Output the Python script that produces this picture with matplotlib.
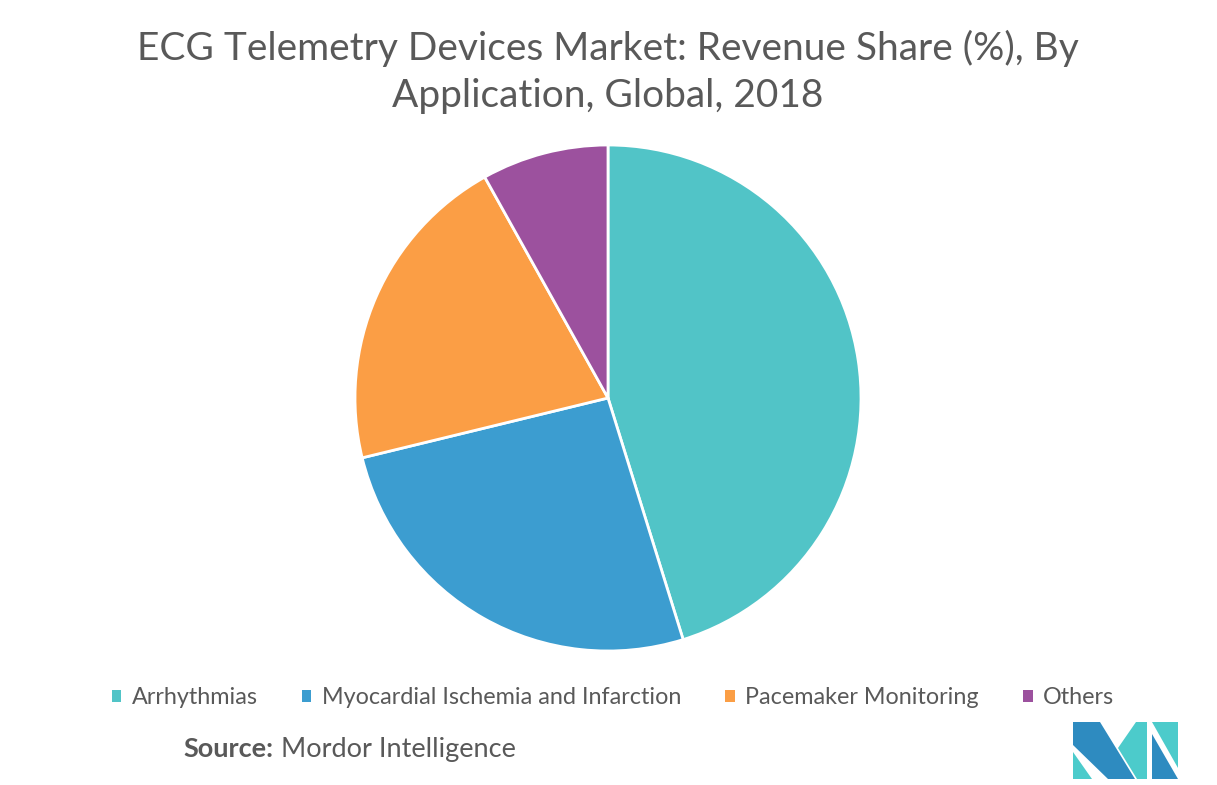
import matplotlib.pyplot as plt
from matplotlib.patches import Patch, Polygon

plt.rcParams['font.family'] = ['Lato', 'DejaVu Sans']

labels = ['Arrhythmias', 'Myocardial Ischemia and Infarction', 'Pacemaker Monitoring', 'Others']
shares = [45.2, 26.0, 20.7, 8.1]
colors = ['#51C4C7', '#3C9DD0', '#FB9E45', '#9C519E']

W, H = 1217, 785
fig = plt.figure(figsize=(W / 100, H / 100), dpi=100)

# pie: centre (608, 398) px, radius 253 px
r = 253
ax = fig.add_axes([(608 - r) / W, (H - 398 - r) / H, 2 * r / W, 2 * r / H])
ax.pie(shares, colors=colors, startangle=90, counterclock=False, radius=1,
       wedgeprops=dict(edgecolor='white', linewidth=2))
ax.set_xlim(-1, 1)
ax.set_ylim(-1, 1)
ax.set_aspect('equal')
ax.axis('off')

fig.text(608 / W, 1 - 72 / H, 'ECG Telemetry Devices Market: Revenue Share (%), By\nApplication, Global, 2018',
         ha='center', va='center', fontsize=28, color='#595959', linespacing=1.4)

handles = [Patch(facecolor=c, edgecolor='none') for c in colors]
fig.legend(handles, labels, loc='center', bbox_to_anchor=(613 / W, 1 - 698 / H), ncol=4,
           frameon=False, fontsize=16.8, handlelength=0.4, handleheight=0.45,
           handletextpad=0.45, columnspacing=1.9, labelcolor='#595959')

src = fig.text(183 / W, 1 - 749 / H, 'Source:', fontsize=19.5, fontweight='bold', color='#595959',
               ha='left', va='center')
fig.canvas.draw()
bb = src.get_window_extent()
fig.text((bb.x1 + 8) / W, 1 - 749 / H, 'Mordor Intelligence', fontsize=19.5, color='#595959',
         ha='left', va='center')

# logo
def px(pts):
    return [(x / W, 1 - y / H) for x, y in pts]

dark = '#2E8BC0'
light = '#4CCBCB'
logo = [
    (px([(1073, 752), (1073, 779), (1092, 779)]), light),
    (px([(1073, 722), (1100, 722), (1135, 779), (1108, 779), (1073, 745)]), dark),
    (px([(1118, 748), (1136, 722), (1147, 722), (1147, 779), (1137, 779)]), light),
    (px([(1152, 722), (1178, 722), (1178, 768)]), light),
    (px([(1152, 734), (1178, 779), (1152, 779)]), dark),
]
for pts, c in logo:
    fig.patches.append(Polygon(pts, closed=True, facecolor=c, edgecolor='none',
                               transform=fig.transFigure, figure=fig))

fig.savefig('out.png', dpi=100, facecolor='white')
